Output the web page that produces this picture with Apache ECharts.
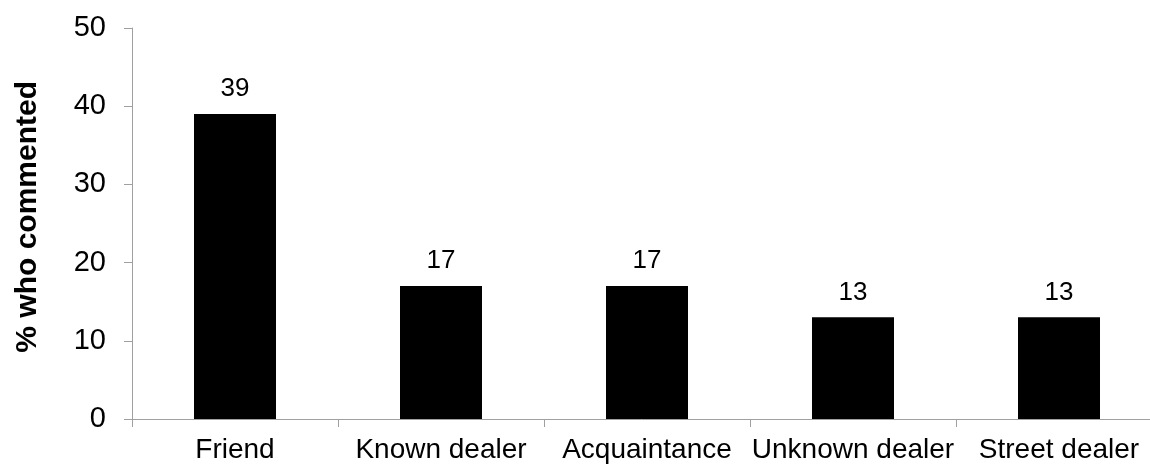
<!DOCTYPE html>
<html>
<head>
<meta charset="utf-8">
<script src="https://cdn.jsdelivr.net/npm/echarts@6/dist/echarts.min.js"></script>
<style>
  html, body { margin: 0; padding: 0; background: #fff; }
  #chart { width: 1150px; height: 464px; }
</style>
</head>
<body>
<div id="chart"></div>
<script>
// Sources mentioned by respondents
const categories = ['Friend', 'Known dealer', 'Acquaintance', 'Unknown dealer', 'Street dealer'];
const percentCommented = [39, 17, 17, 13, 13];
const yAxisTitle = '% who commented';

const FONT = '"Liberation Sans", Arial, sans-serif';
const AXIS_GREY = '#a0a0a0';

const chart = echarts.init(document.getElementById('chart'), null, { renderer: 'canvas' });

chart.setOption({
  animation: false,
  backgroundColor: '#ffffff',
  // plot area runs slightly past the right edge of the canvas
  grid: { left: 132, top: 28, width: 1030, height: 391, outerBoundsMode: 'none', containLabel: false },
  graphic: [{
    type: 'text',
    left: 13,
    top: 81,
    rotation: Math.PI / 2,
    style: {
      text: yAxisTitle,
      fill: '#000',
      font: 'bold 30px ' + FONT
    }
  }],
  xAxis: {
    type: 'category',
    data: categories,
    boundaryGap: true,
    axisLine: { lineStyle: { color: AXIS_GREY, width: 1 } },
    axisTick: { show: true, length: 8, alignWithLabel: false, lineStyle: { color: AXIS_GREY } },
    axisLabel: { color: '#000', fontFamily: FONT, fontSize: 28, margin: 17, interval: 0 }
  },
  yAxis: {
    type: 'value',
    min: 0,
    max: 50,
    interval: 10,
    axisLine: { show: true, lineStyle: { color: AXIS_GREY, width: 1 } },
    axisTick: { show: true, length: 8, lineStyle: { color: AXIS_GREY } },
    splitLine: { show: false },
    axisLabel: { color: '#000', fontFamily: FONT, fontSize: 29, margin: 26 }
  },
  series: [{
    type: 'bar',
    data: percentCommented,
    barWidth: 82,
    itemStyle: { color: '#000000' },
    label: {
      show: true,
      position: 'top',
      distance: 12,
      color: '#000',
      fontFamily: FONT,
      fontSize: 26
    }
  }]
});
</script>
</body>
</html>
